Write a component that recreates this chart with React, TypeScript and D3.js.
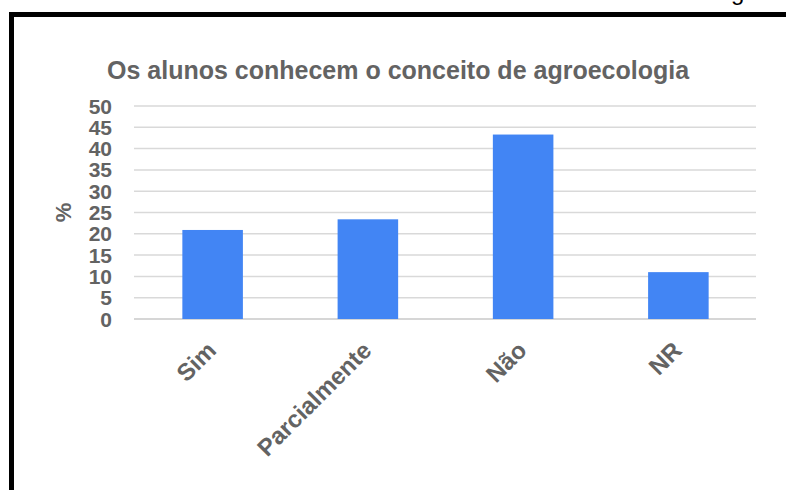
import React from "react";
import * as d3 from "d3";

const categories = ["Sim", "Parcialmente", "Não", "NR"];
const values = [20.9, 23.4, 43.3, 11.0];
const yTicks = [0, 5, 10, 15, 20, 25, 30, 35, 40, 45, 50];
const title = "Os alunos conhecem o conceito de agroecologia";
const yLabel = "%";

const W = 786;
const H = 490;
const FONT = "'Liberation Sans', Arial, sans-serif";
const TEXT = "#636363";

export default function App() {
  const x = d3
    .scaleBand<string>()
    .domain(categories)
    .range([135, 756])
    .paddingInner(0.61)
    .paddingOuter(0.305);
  const y = d3.scaleLinear().domain([0, 50]).range([319, 106]);

  return (
    <svg
      width={W}
      height={H}
      style={{ position: "absolute", left: 0, top: 0, background: "#fff" }}
      fontFamily={FONT}
    >
      <rect x={0} y={0} width={W} height={H} fill="#fff" />
      <text x={731} y={0} fontSize={24} fill="#000" fontFamily={FONT}>
        g
      </text>
      <rect x={11.5} y={14.5} width={820} height={520} fill="none" stroke="#000" strokeWidth={5} />
      <text
        x={107}
        y={79}
        textAnchor="start"
        fontSize={25}
        fontWeight="bold"
        fill={TEXT}
      >
        {title}
      </text>
      {yTicks.map((t) => (
        <line
          key={"g" + t}
          x1={134}
          x2={756}
          y1={y(t)}
          y2={y(t)}
          stroke={t === 0 ? "#c8c8c8" : "#d9d9d9"}
          strokeWidth={1.5}
        />
      ))}
      {yTicks.map((t) => (
        <text
          key={"t" + t}
          x={112}
          y={y(t)}
          dy="0.36em"
          textAnchor="end"
          fontSize={21}
          fontWeight="bold"
          fill={TEXT}
        >
          {t}
        </text>
      ))}
      <text
        transform={`translate(71, ${y(25)}) rotate(-90)`}
        textAnchor="middle"
        fontSize={22}
        fontWeight="bold"
        fill={TEXT}
      >
        {yLabel}
      </text>
      {categories.map((c, i) => (
        <rect
          key={"b" + c}
          x={x(c)!}
          y={y(values[i])}
          width={x.bandwidth()}
          height={y(0) - y(values[i])}
          fill="#4285f4"
        />
      ))}
      {categories.map((c) => (
        <text
          key={"l" + c}
          transform={`translate(${x(c)! + x.bandwidth() / 2 + 5}, 352) rotate(-45)`}
          textAnchor="end"
          fontSize={24}
          fontWeight="bold"
          fill={TEXT}
        >
          {c}
        </text>
      ))}
    </svg>
  );
}
